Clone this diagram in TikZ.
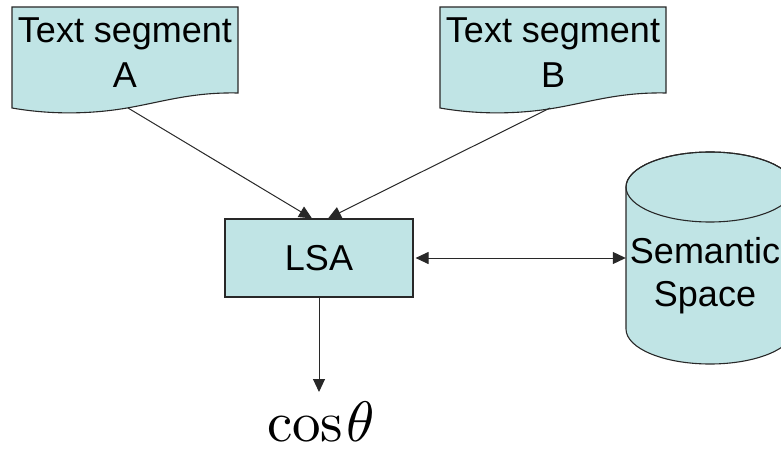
\documentclass[tikz,border=0pt]{standalone}
\usepackage{fontspec}
\newfontfamily\arialfont{Liberation Sans}
\usetikzlibrary{arrows.meta}
\definecolor{boxfill}{RGB}{192,228,229}
\definecolor{edge}{RGB}{40,40,40}
\begin{document}
\begin{tikzpicture}[x=1pt,y=-1pt,
  >={Triangle[length=13pt,width=12pt]},
  shapeline/.style={draw=edge, line width=1.1pt, fill=boxfill},
  lbl/.style={font=\arialfont\fontsize{36}{45}\selectfont, align=center, inner sep=0pt},
  conn/.style={draw=edge, line width=1pt},
  ]
\useasboundingbox (0,0) rectangle (781,449);
\clip (0,0) rectangle (781,449);

% document shape A
\begin{scope}[shift={(12,7)}]
  \path[shapeline] (0,0) -- (226,0) -- (226,86)
    .. controls (180,85) and (150,95) .. (115,101)
    .. controls (80,107) and (40,108) .. (0,101) -- cycle;
\end{scope}
% document shape B
\begin{scope}[shift={(440,7)}]
  \path[shapeline] (0,0) -- (226,0) -- (226,86)
    .. controls (180,85) and (150,95) .. (115,101)
    .. controls (80,107) and (40,108) .. (0,101) -- cycle;
\end{scope}
\node[lbl] (tA) at (125,52.6) {Text segment\\A};
\node[lbl] (tB) at (553,52.6) {Text segment\\B};
\coordinate (Abot) at (128,108);
\coordinate (Bbot) at (550,108);

% LSA box
\node[shapeline, lbl, minimum width=188pt, minimum height=78pt] (L) at (319,258) {\raisebox{-2pt}{LSA}};

% cylinder
\node[inner sep=0pt, minimum width=168pt, minimum height=212pt] (S) at (710,258) {};
\path[shapeline] (626,187) -- (626,329)
  arc[start angle=180, end angle=360, x radius=84pt, y radius=35pt]
  -- (794,187)
  arc[start angle=0, end angle=180, x radius=84pt, y radius=35pt] -- cycle;
\draw[draw=edge, line width=1.1pt] (710,187) ellipse [x radius=84pt, y radius=35pt];
\node[lbl, font=\arialfont\fontsize{36}{43}\selectfont] (St) at (705,276) {Semantic\\Space};

% result
\node[inner sep=0pt, scale=5.7] (cos) at (321,422.5) {$\mathrm{cos}\mkern1mu\theta$};
\coordinate (cosTop) at (319,392);

% connectors
\draw[conn, ->] (Abot) -- ([xshift=-7pt]L.north);
\draw[conn, ->] (Bbot) -- ([xshift=9pt]L.north);
\draw[conn, ->] (L.south) -- (cosTop);
\draw[conn, <->, shorten <=2pt] (L.east) -- (S.west);
\end{tikzpicture}
\end{document}
